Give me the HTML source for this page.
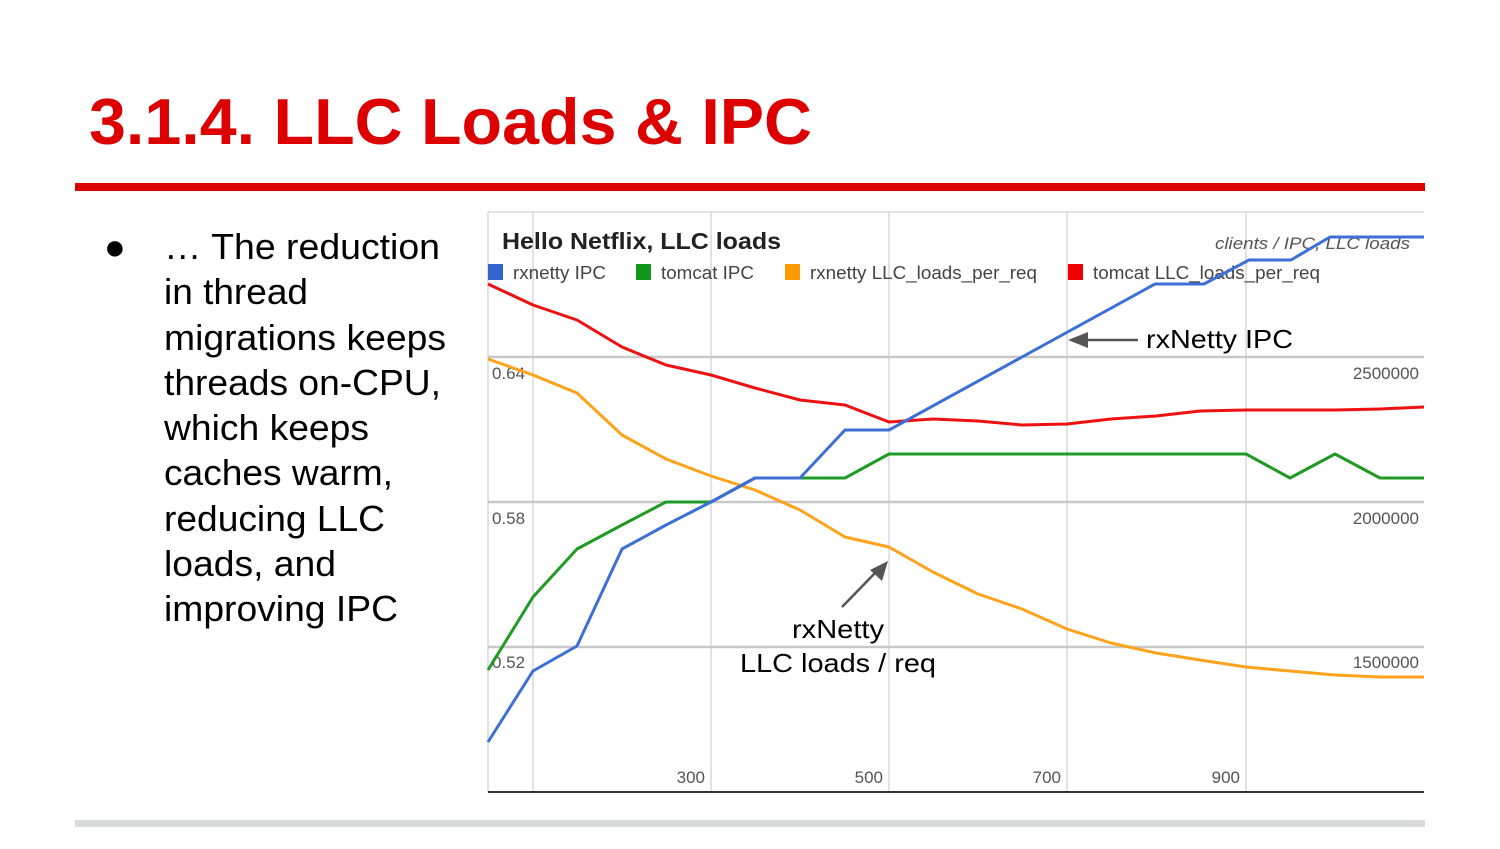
<!DOCTYPE html>
<html><head><meta charset="utf-8"><style>
body{margin:0;background:#fff;width:1500px;height:844px;overflow:hidden;font-family:"Liberation Sans",Arial,sans-serif}
</style></head><body>
<svg width="1500" height="844" xmlns="http://www.w3.org/2000/svg" font-family="Liberation Sans, Arial, sans-serif">
<text x="89" y="144" font-size="65" font-weight="bold" fill="#dd0000" textLength="723" lengthAdjust="spacingAndGlyphs">3.1.4. LLC Loads &amp; IPC</text>
<rect x="75" y="183" width="1350" height="8" fill="#dd0000"/>
<rect x="75" y="820" width="1350" height="7" fill="#d9dcdc"/>
<g font-size="36" fill="#000">
<text x="104" y="259">●</text>
<text x="164" y="259" textLength="276" lengthAdjust="spacingAndGlyphs">… The reduction</text>
<text x="164" y="304" textLength="144" lengthAdjust="spacingAndGlyphs">in thread</text>
<text x="164" y="350" textLength="282" lengthAdjust="spacingAndGlyphs">migrations keeps</text>
<text x="164" y="395" textLength="277" lengthAdjust="spacingAndGlyphs">threads on-CPU,</text>
<text x="164" y="440" textLength="205" lengthAdjust="spacingAndGlyphs">which keeps</text>
<text x="164" y="485" textLength="229" lengthAdjust="spacingAndGlyphs">caches warm,</text>
<text x="164" y="531" textLength="221" lengthAdjust="spacingAndGlyphs">reducing LLC</text>
<text x="164" y="576" textLength="172" lengthAdjust="spacingAndGlyphs">loads, and</text>
<text x="164" y="621" textLength="234" lengthAdjust="spacingAndGlyphs">improving IPC</text>
</g>
<g stroke="#d8d8d8" stroke-width="1.5">
<line x1="488" y1="212" x2="1424" y2="212"/>
<line x1="488" y1="212" x2="488" y2="792"/>
<line x1="533" y1="212" x2="533" y2="792"/>
<line x1="711" y1="212" x2="711" y2="792"/>
<line x1="889" y1="212" x2="889" y2="792"/>
<line x1="1067" y1="212" x2="1067" y2="792"/>
<line x1="1246" y1="212" x2="1246" y2="792"/>
</g>
<g stroke="#c8c8c8" stroke-width="2.5">
<line x1="488" y1="357" x2="1424" y2="357"/>
<line x1="488" y1="502" x2="1424" y2="502"/>
<line x1="488" y1="647" x2="1424" y2="647"/>
</g>
<line x1="488" y1="792" x2="1424" y2="792" stroke="#333" stroke-width="2"/>
<g font-size="17" fill="#555">
<text x="492" y="379">0.64</text><text x="492" y="524">0.58</text><text x="492" y="668">0.52</text>
<text x="1419" y="379" text-anchor="end">2500000</text><text x="1419" y="524" text-anchor="end">2000000</text><text x="1419" y="668" text-anchor="end">1500000</text>
<text x="705" y="783" text-anchor="end">300</text><text x="883" y="783" text-anchor="end">500</text><text x="1061" y="783" text-anchor="end">700</text><text x="1240" y="783" text-anchor="end">900</text>
</g>
<text x="502" y="249" font-size="23" font-weight="bold" fill="#222" textLength="279" lengthAdjust="spacingAndGlyphs">Hello Netflix, LLC loads</text>
<text x="1215" y="249" font-size="17" font-style="italic" fill="#555" textLength="195" lengthAdjust="spacingAndGlyphs">clients / IPC, LLC loads</text>
<g font-size="18" fill="#444">
<rect x="488" y="264" width="15" height="16" fill="#3366cc"/><text x="513" y="279" textLength="93" lengthAdjust="spacingAndGlyphs">rxnetty IPC</text>
<rect x="636" y="264" width="15" height="16" fill="#109618"/><text x="661" y="279" textLength="93" lengthAdjust="spacingAndGlyphs">tomcat IPC</text>
<rect x="785" y="264" width="15" height="16" fill="#ff9900"/><text x="810" y="279" textLength="227" lengthAdjust="spacingAndGlyphs">rxnetty LLC_loads_per_req</text>
<rect x="1068" y="264" width="15" height="16" fill="#ee0000"/><text x="1093" y="279" textLength="227" lengthAdjust="spacingAndGlyphs">tomcat LLC_loads_per_req</text>
</g>
<g fill="none" stroke-width="3" stroke-linejoin="round">
<polyline stroke="#ee1111" points="488,284 533,305 577,320 622,347 666,365 711,375 755,388 800,400 845,405 889,422 933,419 978,421 1022,425 1067,424 1111,419 1156,416 1200,411 1246,410 1290,410 1335,410 1380,409 1424,407"/>
<polyline stroke="#ffa21c" points="488,359 533,375 577,393 622,435 666,459 711,476 755,490 800,510 845,537 889,547 933,572 978,594 1022,609 1067,629 1111,643 1156,653 1200,660 1246,667 1290,671 1335,675 1380,677 1424,677"/>
<polyline stroke="#1f9a24" points="488,670 533,597 577,549 622,525 666,502 711,502 755,478 800,478 845,478 889,454 1246,454 1290,478 1335,454 1380,478 1424,478"/>
<polyline stroke="#3e6fd6" points="488,742 533,671 577,646 622,549 666,525 711,502 755,478 800,478 845,430 889,430 1155,284 1204,284 1249,260 1291,260 1330,237 1424,237"/>
</g>
<g stroke="#555" stroke-width="2.5" fill="#555">
<line x1="1138" y1="340" x2="1085" y2="340"/><polygon points="1068,340 1088,332 1088,348" stroke="none"/>
<line x1="842" y1="607" x2="876" y2="572"/><polygon points="888,561 882,581 870,570" stroke="none"/>
</g>
<g font-size="26" fill="#000">
<text x="1146" y="348" textLength="147" lengthAdjust="spacingAndGlyphs">rxNetty IPC</text>
<text x="792" y="638" textLength="92" lengthAdjust="spacingAndGlyphs">rxNetty</text>
<text x="740" y="672" textLength="196" lengthAdjust="spacingAndGlyphs">LLC loads / req</text>
</g>
</svg>
</body></html>
